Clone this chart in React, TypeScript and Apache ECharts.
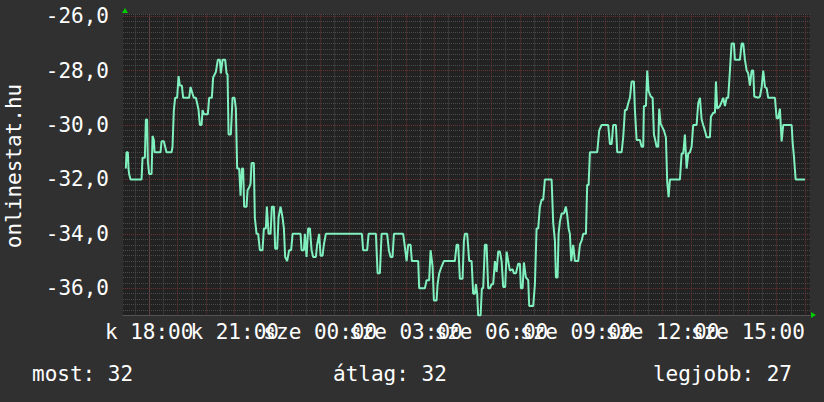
import React, { useEffect, useRef } from "react";
import * as echarts from "echarts";

// time in minutes relative to Tuesday 18:00 ("k 18:00")
const minutes = [
  -49.0, -47.6, -44.8, -43.4, -42.1, -39.1, -16.0, -13.9, -9.0, -6.9, -4.2, -2.7, 0, 5.1, 7.2, 9.9, 11.4, 24.0, 26.1, 30.9,
  33.7, 36.6, 47.1, 49.2, 52.0, 54.7, 58.9, 61.9, 64.6, 68.8, 71.6, 84.2, 87.1, 91.3, 94.1, 98.3, 101.0, 104.0, 106.7, 110.3,
  112.4, 115.1, 123.5, 126.3, 131.9, 134.7, 140.4, 144.6, 148.8, 150.9, 154.5, 159.9, 162.9, 165.0, 167.1, 171.9, 175.5, 179.7, 182.5, 185.2,
  189.4, 192.3, 195.1, 197.8, 199.9, 205.0, 207.1, 210.4, 213.4, 215.5, 220.3, 222.4, 226.0, 229.4, 233.0, 238.6, 241.4, 245.6, 247.7, 251.3,
  255.5, 258.2, 262.4, 265.2, 269.4, 272.3, 276.5, 280.7, 283.5, 286.2, 290.4, 294.6, 298.8, 301.8, 318.6, 320.7, 325.6, 327.7, 331.2, 334.6,
  338.2, 341.8, 345.1, 350.8, 353.5, 357.7, 360.7, 364.9, 367.6, 371.8, 447.6, 450.3, 458.8, 461.7, 477.1, 480.7, 485.5, 489.1, 500.8, 504.4,
  508.0, 512.2, 515.0, 534.5, 537.5, 541.7, 545.0, 550.1, 552.8, 566.1, 568.2, 580.2, 583.8, 589.2, 592.2, 596.4, 599.1, 604.8, 606.9, 610.3,
  615.3, 620.2, 643.3, 646.9, 650.3, 653.8, 659.5, 662.3, 664.4, 669.2, 673.4, 678.5, 681.8, 685.4, 687.5, 690.2, 692.3, 697.4, 700.1, 702.9,
  706.4, 710.0, 713.4, 717.0, 720.5, 723.9, 727.5, 731.1, 734.4, 738.0, 741.6, 745.0, 749.2, 752.1, 755.5, 759.0, 764.7, 767.5, 771.7, 776.5,
  780.1, 782.2, 785.8, 788.5, 792.7, 797.6, 799.7, 808.1, 811.7, 815.2, 818.6, 822.2, 825.8, 829.1, 832.7, 846.8, 850.2, 853.8, 855.9, 859.4,
  861.5, 864.3, 867.9, 872.7, 876.9, 879.6, 882.6, 885.3, 888.1, 892.3, 895.9, 902.8, 906.4, 910.0, 913.3, 919.0, 921.7, 924.7, 927.4, 942.8,
  947.0, 952.0, 965.9, 969.5, 973.1, 976.4, 982.1, 984.9, 994.1, 997.5, 1001.1, 1004.7, 1008.0, 1011.6, 1015.2, 1020.0, 1022.1, 1025.7, 1032.6, 1036.2,
  1039.6, 1041.0, 1045.3, 1048.0, 1050.9, 1055.2, 1059.4, 1062.1, 1064.8, 1067.8, 1071.1, 1073.2, 1076.2, 1078.9, 1083.1, 1087.3, 1090.1, 1093.0, 1095.8, 1116.8,
  1120.4, 1123.8, 1127.3, 1130.9, 1134.3, 1137.9, 1141.4, 1144.8, 1151.9, 1155.3, 1158.9, 1162.5, 1165.8, 1169.4, 1173.0, 1179.9, 1182.0, 1186.9, 1190.5, 1192.6,
  1195.3, 1201.0, 1204.6, 1207.9, 1211.5, 1215.1, 1218.4, 1222.0, 1225.6, 1230.4, 1232.5, 1243.1, 1246.7, 1250.0, 1253.6, 1257.2, 1260.5, 1264.1, 1267.7, 1271.1,
  1273.2, 1281.6, 1285.2, 1288.8, 1292.1, 1295.7, 1299.3, 1302.6, 1316.7, 1320.3, 1323.7, 1327.2, 1330.8, 1334.2, 1351.9, 1354.0, 1356.7, 1360.3, 1379.9,
];

const temps = [
  -31.6, -31.0, -31.0, -31.6, -31.8, -32.0, -32.0, -31.2, -31.2, -29.8, -29.8, -31.35, -31.8, -31.8, -30.4, -30.55, -31.0, -31.0, -30.6, -30.6,
  -30.8, -31.0, -31.0, -30.8, -29.45, -29.0, -29.0, -28.2, -28.55, -28.55, -29.0, -29.0, -28.6, -28.85, -29.0, -29.0, -29.2, -29.45, -30.0, -30.0,
  -29.45, -29.6, -29.6, -29.0, -29.0, -28.25, -28.05, -27.6, -27.6, -28.1, -27.6, -27.6, -28.1, -28.15, -30.35, -30.35, -29.0, -29.0, -29.4, -31.6,
  -31.6, -32.6, -31.6, -31.6, -33.0, -33.0, -32.4, -32.3, -32.15, -31.4, -31.4, -33.4, -34.0, -34.0, -34.6, -34.6, -33.8, -33.8, -33.0, -34.0,
  -34.0, -33.0, -33.0, -34.55, -34.55, -33.4, -33.0, -33.4, -33.8, -34.85, -35.0, -34.6, -34.6, -34.0, -34.0, -34.6, -34.6, -34.0, -34.85, -33.8,
  -33.8, -34.6, -34.85, -34.85, -34.4, -34.0, -34.8, -34.8, -34.4, -34.0, -34.0, -34.6, -34.6, -34.0, -34.0, -35.45, -35.45, -34.0, -34.0, -34.6,
  -34.85, -34.85, -34.0, -34.0, -34.4, -35.0, -34.4, -34.4, -35.0, -35.0, -36.0, -36.0, -35.7, -35.7, -34.6, -35.2, -36.45, -36.45, -35.85, -35.45,
  -35.2, -35.0, -35.0, -34.4, -34.4, -35.65, -35.65, -34.25, -34.0, -34.0, -35.0, -35.0, -36.2, -36.2, -35.85, -36.2, -37.0, -37.0, -36.0, -36.0,
  -34.4, -34.4, -36.0, -36.0, -35.85, -35.85, -35.0, -35.4, -34.65, -34.65, -35.0, -35.95, -35.95, -34.65, -35.0, -35.35, -35.3, -35.45, -35.45, -35.1,
  -35.1, -36.0, -36.0, -35.05, -35.6, -35.7, -36.65, -36.65, -35.85, -33.8, -33.8, -33.0, -32.75, -32.75, -32.0, -32.0, -33.6, -34.25, -35.6, -35.6,
  -34.0, -33.55, -33.25, -33.25, -33.0, -33.3, -33.8, -34.0, -35.0, -34.4, -35.0, -35.0, -34.4, -34.25, -34.0, -34.0, -32.2, -32.2, -31.0, -31.0,
  -30.2, -30.0, -30.0, -30.7, -30.7, -30.0, -30.0, -31.0, -31.0, -30.45, -29.45, -29.45, -29.2, -29.0, -28.4, -28.4, -29.45, -30.55, -30.55, -30.8,
  -30.8, -29.3, -29.3, -28.0, -28.75, -28.95, -29.0, -30.35, -30.55, -30.8, -30.8, -29.4, -29.95, -30.05, -30.2, -30.45, -32.1, -32.65, -32.0, -32.0,
  -31.05, -31.05, -30.35, -31.6, -31.05, -31.0, -30.8, -30.0, -30.0, -29.2, -29.0, -29.8, -30.0, -30.2, -30.45, -30.45, -29.7, -29.55, -29.55, -28.4,
  -29.4, -29.3, -29.15, -29.0, -29.3, -29.0, -29.0, -28.0, -27.0, -27.0, -27.6, -27.6, -27.0, -27.0, -27.6, -28.0, -28.1, -28.55, -28.0, -28.0,
  -28.95, -29.0, -28.95, -28.6, -28.0, -28.6, -28.65, -29.0, -29.0, -29.75, -29.75, -29.4, -30.6, -30.0, -30.0, -30.65, -31.15, -32.0, -32.0,
];

const xTickMinutes = [0, 180, 360, 540, 720, 900, 1080, 1260];
const xTickLabels = ["k 18:00", "k 21:00", "sze 00:00", "sze 03:00", "sze 06:00", "sze 09:00", "sze 12:00", "sze 15:00"];
const yTickValues = [-36, -34, -32, -30, -28, -26];
const yTickLabels = ["-36,0", "-34,0", "-32,0", "-30,0", "-28,0", "-26,0"];
const legendItems = ["most: 32", "átlag: 32", "legjobb: 27"];
const axisTitle = "onlinestat.hu";

const MONO = "DejaVu Sans Mono";
const RED = "#6a3232";
const GRAY = "#4a4a4a";

const X_MIN = -55;
const X_MAX = 1390.5;

export default function App() {
  const ref = useRef<HTMLDivElement>(null);
  useEffect(() => {
    if (!ref.current) return;
    const chart = echarts.init(ref.current, null, { renderer: "svg" });
    const data = minutes.map((m, i) => [m, temps[i]]);

    // vertical grid: red every hour, gray every half hour
    const gridLines: any[] = [];
    for (let m = -30; m < X_MAX; m += 30) {
      const major = m % 60 === 0;
      gridLines.push({
        xAxis: m,
        lineStyle: { color: major ? RED : GRAY, type: [1, 1], width: 1 },
      });
    }
    // horizontal major grid
    yTickValues.forEach((v) => {
      gridLines.push({ yAxis: v, lineStyle: { color: RED, type: [1, 1], width: 1 } });
    });

    chart.setOption({
      animation: false,
      backgroundColor: "#303030",
      grid: {
        left: 123,
        right: 14,
        top: 14,
        bottom: 86.5,
        show: true,
        backgroundColor: "#222222",
        borderWidth: 0,
      },
      xAxis: {
        type: "value",
        min: X_MIN,
        max: X_MAX,
        interval: 5,
        axisLine: { show: true, onZero: false, lineStyle: { color: "#555555", width: 1 } },
        axisTick: { show: false },
        splitLine: { show: false },
        axisLabel: {
          color: "#ffffff",
          fontFamily: MONO,
          fontSize: 21,
          margin: 6,
          hideOverlap: false,
          formatter: (v: number) => {
            const r = Math.round(v);
            if (Math.abs(v - r) > 1e-6) return "";
            const i = xTickMinutes.indexOf(r);
            return i >= 0 ? xTickLabels[i] : "";
          },
        },
      },
      yAxis: {
        type: "value",
        min: -37,
        max: -25.92,
        interval: 0.2,
        axisLine: { show: true, lineStyle: { color: "#555555", width: 1 } },
        axisTick: { show: false },
        splitLine: { show: true, lineStyle: { color: GRAY, type: [1, 1], width: 1 } },
        axisLabel: {
          color: "#ffffff",
          fontFamily: MONO,
          fontSize: 21,
          margin: 14,
          formatter: (v: number) => {
            for (let i = 0; i < yTickValues.length; i++) {
              if (Math.abs(v - yTickValues[i]) < 1e-6) return yTickLabels[i];
            }
            return "";
          },
        },
      },
      series: [
        {
          type: "line",
          data,
          showSymbol: false,
          symbol: "none",
          clip: true,
          z: 3,
          lineStyle: { color: "#7ff0be", width: 2 },
          markLine: {
            silent: true,
            z: 1,
            symbol: ["none", "none"],
            label: { show: false },
            emphasis: { disabled: true },
            data: gridLines,
          },
        },
      ],
      graphic: [
        {
          type: "text",
          x: 14,
          y: 166,
          rotation: Math.PI / 2,
          style: {
            text: axisTitle,
            fill: "#ffffff",
            font: `21px "${MONO}"`,
            textAlign: "center",
            textVerticalAlign: "middle",
          },
        },
        {
          type: "polygon",
          shape: { points: [[122, 13], [128, 13], [125, 8]] },
          style: { fill: "#00cc00" },
        },
        {
          type: "polygon",
          shape: { points: [[811, 312], [811, 318], [816, 315]] },
          style: { fill: "#00cc00" },
        },
        {
          type: "text",
          x: 32,
          y: 374,
          style: { text: legendItems[0], fill: "#ffffff", font: `21px "${MONO}"`, textAlign: "left", textVerticalAlign: "middle" },
        },
        {
          type: "text",
          x: 333,
          y: 374,
          style: { text: legendItems[1], fill: "#ffffff", font: `21px "${MONO}"`, textAlign: "left", textVerticalAlign: "middle" },
        },
        {
          type: "text",
          x: 792,
          y: 374,
          style: { text: legendItems[2], fill: "#ffffff", font: `21px "${MONO}"`, textAlign: "right", textVerticalAlign: "middle" },
        },
      ],
    });
    return () => chart.dispose();
  }, []);
  return <div ref={ref} style={{ position: "fixed", left: 0, top: 0, width: 824, height: 402 }} />;
}
